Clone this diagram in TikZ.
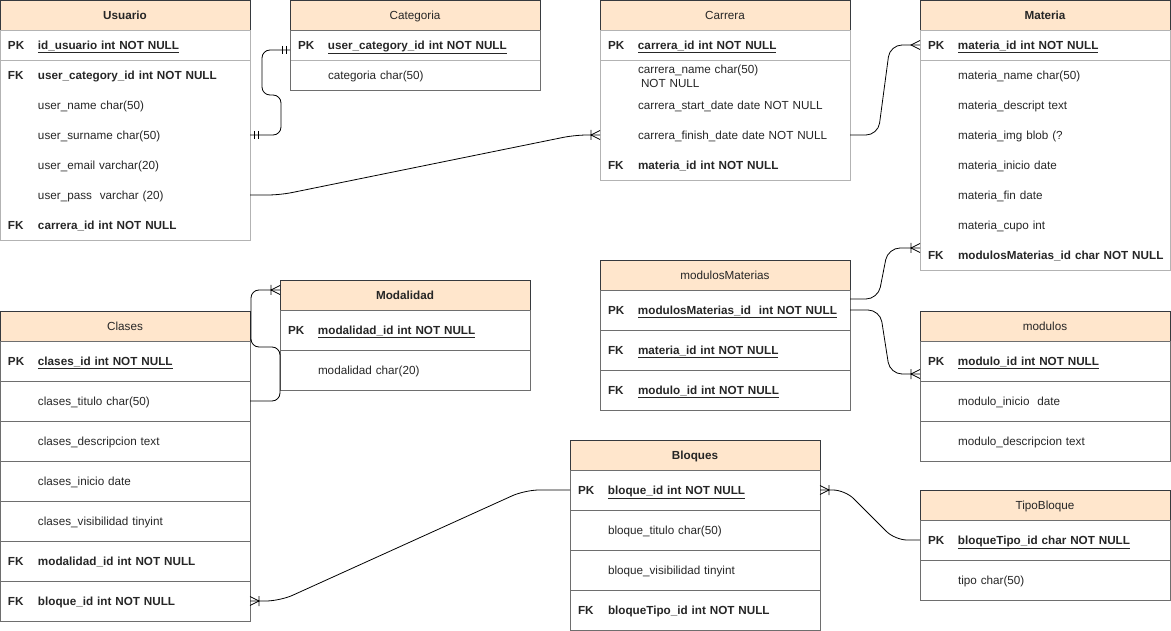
\documentclass[tikz,border=0pt]{standalone}
\usepackage{fontspec}
\setmainfont{Liberation Sans}
\usepackage{tikz}
\usetikzlibrary{positioning}

\definecolor{hdrfill}{HTML}{FFE6CC}
\definecolor{edgedark}{HTML}{36393D}
\definecolor{edgelight}{HTML}{B3B3B3}
\definecolor{edgemid}{HTML}{6E6E6E}
\newcommand{\keycol}[1]{\makebox[30pt][l]{#1}}

\begin{document}
\begin{tikzpicture}[x=1pt,y=-1pt,
            font=\fontsize{11.7}{14}\selectfont,
            hdr/.style={draw=edgedark, fill=hdrfill, anchor=north west, minimum width=250pt,
                minimum height=30pt, inner sep=0pt, outer sep=0pt, text=black!85,
                text height=11pt, text depth=2pt},
            fld/.style={minimum height=30pt, text width=234pt, inner xsep=8pt, inner ysep=0pt,
                outer sep=0pt, align=left, text=black!85, text height=11pt, text depth=2pt},
            pkfld/.style={fld, draw=edgelight},
            tallfld/.style={fld, minimum height=40pt, draw=edgemid},
            body/.style={draw=edgelight},
            rel/.style={draw=black, line width=0.8pt},
            erone/.pic={\draw[line width=0.8pt] (-4,-4) -- (-4,4) (-8,-4) -- (-8,4);},
            ermany/.pic={\draw[line width=0.8pt] (0,-4.5) -- (-9,0) -- (0,4.5);},
            eronemany/.pic={\draw[line width=0.8pt] (0,-4.5) -- (-9,0) -- (0,4.5) (-9,-5) -- (-9,5);}]
        \useasboundingbox (0,0) rectangle (1171,631);

        % Usuario
        \node[hdr] (usu) at (0,0) {\bfseries Usuario};
        \node[pkfld, below=0pt of usu] (usu-pk) {\bfseries\keycol{PK}\underline{id\_usuario int NOT NULL}};
        \node[fld, below=0pt of usu-pk] (usu-cat) {\bfseries\keycol{FK}user\_category\_id int NOT NULL};
        \node[fld, below=0pt of usu-cat] (usu-name) {\keycol{}user\_name char(50)};
        \node[fld, below=0pt of usu-name] (usu-surname) {\keycol{}user\_surname char(50)};
        \node[fld, below=0pt of usu-surname] (usu-email) {\keycol{}user\_email varchar(20)};
        \node[fld, below=0pt of usu-email] (usu-pass) {\keycol{}user\_pass\ \ varchar (20)};
        \node[fld, below=0pt of usu-pass] (usu-car) {\bfseries\keycol{FK}carrera\_id int NOT NULL};
        \draw[body] (usu.south west) rectangle (usu-car.south east);

        % Categoria
        \node[hdr] (cat) at (290,0) {Categoria};
        \node[pkfld, below=0pt of cat] (cat-pk) {\bfseries\keycol{PK}\underline{user\_category\_id int NOT NULL}};
        \node[fld, below=0pt of cat-pk] (cat-name) {\keycol{}categoria char(50)};
        \draw[draw=edgemid] (cat.south west) rectangle (cat-name.south east);

        % Carrera
        \node[hdr] (car) at (600,0) {Carrera};
        \node[pkfld, below=0pt of car] (car-pk) {\bfseries\keycol{PK}\underline{carrera\_id int NOT NULL}};
        \node[fld, below=0pt of car-pk] (car-name) {\keycol{}\raisebox{-1.5pt}{\begin{tabular}[c]{@{}l@{}}carrera\_name char(50)\\\hspace{3pt}NOT NULL\end{tabular}}};
        \node[fld, below=0pt of car-name] (car-start) {\keycol{}carrera\_start\_date date NOT NULL};
        \node[fld, below=0pt of car-start] (car-finish) {\keycol{}carrera\_finish\_date date NOT NULL};
        \node[fld, below=0pt of car-finish] (car-mat) {\bfseries\keycol{FK}materia\_id int NOT NULL};
        \draw[body] (car.south west) rectangle (car-mat.south east);

        % Materia
        \node[hdr] (mat) at (920,0) {\bfseries Materia};
        \node[pkfld, below=0pt of mat] (mat-pk) {\bfseries\keycol{PK}\underline{materia\_id int NOT NULL}};
        \node[fld, below=0pt of mat-pk] (mat-name) {\keycol{}materia\_name char(50)};
        \node[fld, below=0pt of mat-name] (mat-desc) {\keycol{}materia\_descript text};
        \node[fld, below=0pt of mat-desc] (mat-img) {\keycol{}materia\_img blob (?};
        \node[fld, below=0pt of mat-img] (mat-ini) {\keycol{}materia\_inicio date};
        \node[fld, below=0pt of mat-ini] (mat-fin) {\keycol{}materia\_fin date};
        \node[fld, below=0pt of mat-fin] (mat-cupo) {\keycol{}materia\_cupo int};
        \node[fld, below=0pt of mat-cupo] (mat-mod) {\bfseries\keycol{FK}\mbox{modulosMaterias\_id char NOT NULL}};
        \draw[body] (mat.south west) rectangle (mat-mod.south east);

        % modulosMaterias
        \node[hdr] (mm) at (600,260) {modulosMaterias};
        \node[tallfld, below=0pt of mm] (mm-pk) {\bfseries\keycol{PK}\underline{modulosMaterias\_id\ \ int NOT NULL}};
        \node[tallfld, below=0pt of mm-pk] (mm-mat) {\bfseries\keycol{FK}\underline{materia\_id int NOT NULL}};
        \node[tallfld, below=0pt of mm-mat] (mm-mod) {\bfseries\keycol{FK}\underline{modulo\_id int NOT NULL}};

        % modulos
        \node[hdr] (mod) at (920,311) {modulos};
        \node[tallfld, below=0pt of mod] (mod-pk) {\bfseries\keycol{PK}\underline{modulo\_id int NOT NULL}};
        \node[tallfld, below=0pt of mod-pk] (mod-ini) {\keycol{}modulo\_inicio\ \ date};
        \node[tallfld, below=0pt of mod-ini] (mod-desc) {\keycol{}modulo\_descripcion text};

        % Modalidad
        \node[hdr] (modal) at (280,280) {\bfseries Modalidad};
        \node[tallfld, below=0pt of modal] (modal-pk) {\bfseries\keycol{PK}\underline{modalidad\_id int NOT NULL}};
        \node[tallfld, below=0pt of modal-pk] (modal-name) {\keycol{}modalidad char(20)};

        % Clases
        \node[hdr] (cla) at (0,311) {Clases};
        \node[tallfld, below=0pt of cla] (cla-pk) {\bfseries\keycol{PK}\underline{clases\_id int NOT NULL}};
        \node[tallfld, below=0pt of cla-pk] (cla-titulo) {\keycol{}clases\_titulo char(50)};
        \node[tallfld, below=0pt of cla-titulo] (cla-desc) {\keycol{}clases\_descripcion text};
        \node[tallfld, below=0pt of cla-desc] (cla-ini) {\keycol{}clases\_inicio date};
        \node[tallfld, below=0pt of cla-ini] (cla-vis) {\keycol{}clases\_visibilidad tinyint};
        \node[tallfld, below=0pt of cla-vis] (cla-modal) {\bfseries\keycol{FK}modalidad\_id int NOT NULL};
        \node[tallfld, below=0pt of cla-modal] (cla-bloque) {\bfseries\keycol{FK}bloque\_id int NOT NULL};

        % Bloques
        \node[hdr] (blo) at (570,440) {\bfseries Bloques};
        \node[tallfld, below=0pt of blo] (blo-pk) {\bfseries\keycol{PK}\underline{bloque\_id int NOT NULL}};
        \node[tallfld, below=0pt of blo-pk] (blo-titulo) {\keycol{}bloque\_titulo char(50)};
        \node[tallfld, below=0pt of blo-titulo] (blo-vis) {\keycol{}bloque\_visibilidad tinyint};
        \node[tallfld, below=0pt of blo-vis] (blo-tipo) {\bfseries\keycol{FK}bloqueTipo\_id int NOT NULL};

        % TipoBloque
        \node[hdr] (tb) at (920,490) {TipoBloque};
        \node[tallfld, below=0pt of tb] (tb-pk) {\bfseries\keycol{PK}\underline{bloqueTipo\_id char NOT NULL}};
        \node[tallfld, below=0pt of tb-pk] (tb-tipo) {\keycol{}tipo char(50)};

        % relations
        \draw[rel, rounded corners=8pt] (usu-surname.east) -- ++(31,0) -- ++(0,-40) -- ++(-19,0) -- ++(0,-45)
            -- ([yshift=-5pt]cat-pk.west);
        \draw[rel, rounded corners=12pt] (usu-pass.east) -- ++(30,0) -- ([xshift=-25pt]car-finish.west) -- (car-finish.west);
        \draw[rel, rounded corners=12pt] (car-finish.east) -- ++(28,0) -- ([xshift=-30pt]mat-pk.west) -- (mat-pk.west);
        \draw[rel, rounded corners=12pt] ([yshift=-9pt]mm.south east) -- ++(28,0) -- ([xshift=-32pt,yshift=7pt]mat-mod.west)
            -- ([yshift=7pt]mat-mod.west);
        \draw[rel, rounded corners=12pt] (mm-pk.east) -- ++(30,0) -- ([xshift=-30pt,yshift=-13pt]mod-pk.west)
            -- ([yshift=-13pt]mod-pk.west);
        \draw[rel, rounded corners=8pt] (cla-titulo.east) -- ++(30,0) -- ++(0,-54) -- ++(-29,0) -- ++(0,-57)
            -- ([yshift=5pt]modal.west);
        \draw[rel, rounded corners=14pt] (cla-bloque.east) -- ++(30,0) -- ([xshift=-45pt]blo-pk.west) -- (blo-pk.west);
        \draw[rel, rounded corners=12pt] (blo-pk.east) -- ++(25,0) -- ([xshift=-25pt]tb-pk.west) -- (tb-pk.west);

        % end marks
        \pic[xscale=-1] at (usu-surname.east) {erone};
        \pic at ([yshift=-5pt]cat-pk.west) {erone};
        \pic at (car-finish.west) {eronemany};
        \pic at (mat-pk.west) {ermany};
        \pic at ([yshift=7pt]mat-mod.west) {eronemany};
        \pic at ([yshift=-13pt]mod-pk.west) {eronemany};
        \pic at ([yshift=5pt]modal.west) {eronemany};
        \pic[xscale=-1] at (cla-bloque.east) {eronemany};
        \pic[xscale=-1] at (blo-pk.east) {eronemany};
    \end{tikzpicture}
\end{document}
